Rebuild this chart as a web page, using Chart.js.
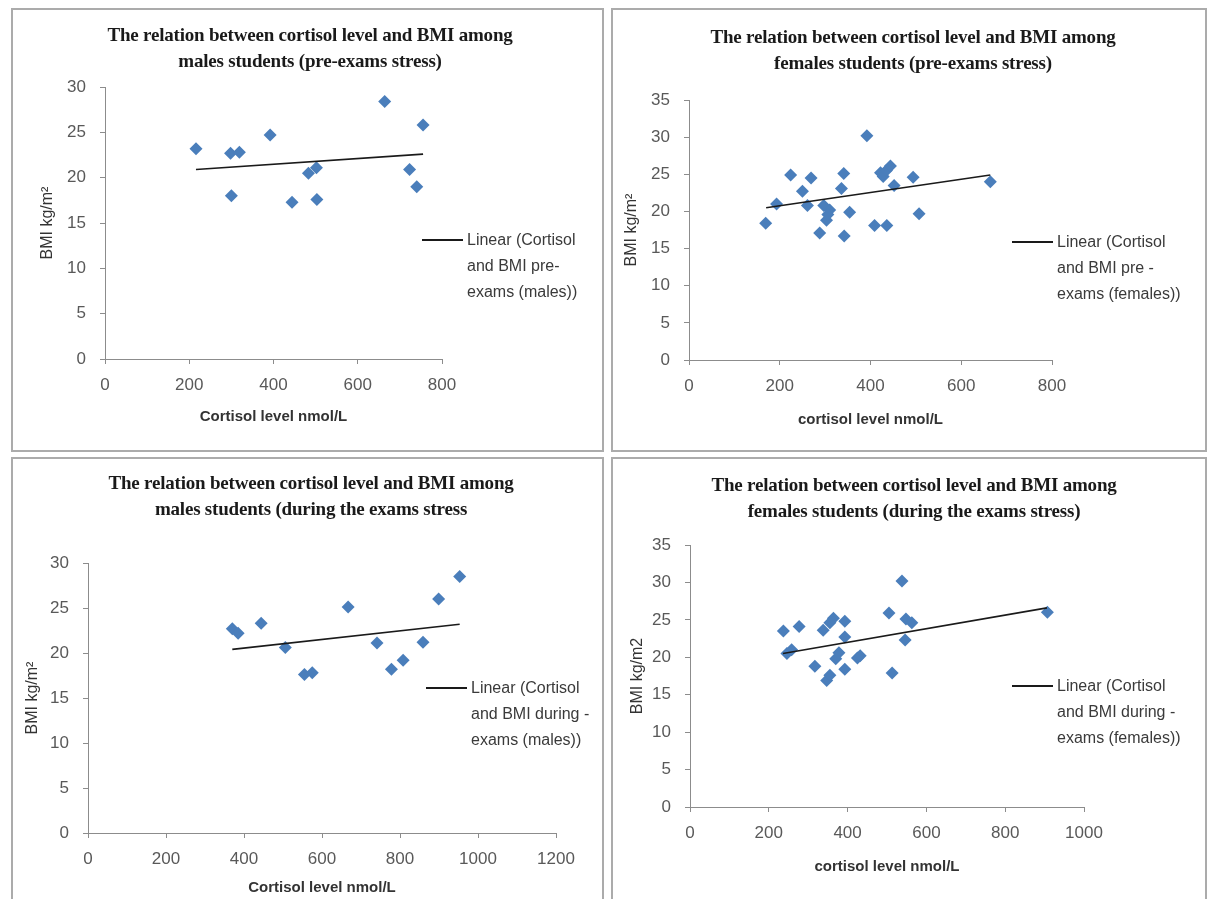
<!DOCTYPE html>
<html>
<head>
<meta charset="utf-8">
<script src="https://cdn.jsdelivr.net/npm/chart.js@4.4.1/dist/chart.umd.min.js"></script>
<style>
    body { margin: 0; background: #fff; width: 1210px; height: 899px; position: relative; overflow: hidden; font-family: "Liberation Sans", Arial, sans-serif; }
    .frame { position: absolute; border: 2px solid #ababab; box-sizing: border-box; }
    .panel { position: absolute; }
    .title { position: absolute; width: 600px; text-align: center; font: bold 19px "Liberation Serif", serif; color: #1a1a1a; line-height: 26px; white-space: nowrap; letter-spacing: -0.2px; }
    .legend { position: absolute; font-size: 16px; color: #3a3a3a; line-height: 26px; white-space: nowrap; }
    .legend .swatch { position: absolute; left: 0; top: 12px; height: 2px; background: #1a1a1a; }
    .legend .text { position: absolute; top: 0; }
</style>
</head>
<body>

<div class="frame" style="left:11px;top:8px;width:593px;height:444px"></div>
<div class="frame" style="left:611px;top:8px;width:596px;height:444px"></div>
<div class="frame" style="left:11px;top:457px;width:593px;height:450px"></div>
<div class="frame" style="left:611px;top:457px;width:596px;height:450px"></div>

<div id="charts"></div>

<script>
// males, pre-exams
const malesPreCortisol = [216, 298, 319, 300, 392, 444, 483, 502, 503, 664, 723, 740, 755]
const malesPreBmi = [23.2, 22.7, 22.8, 18.0, 24.7, 17.3, 20.5, 21.1, 17.6, 28.4, 20.9, 19.0, 25.8]
const malesPreTrendCortisol = [216, 755]
const malesPreTrendBmi = [20.9, 22.6]
const malesPreXTicks = [0, 200, 400, 600, 800]
const malesPreYTicks = [0, 5, 10, 15, 20, 25, 30]

// females, pre-exams
const femalesPreCortisol = [169, 193, 224, 250, 261, 269, 288, 303, 297, 310, 306, 336, 341, 342, 354, 392, 409, 436, 422, 428, 435, 444, 452, 494, 507, 664]
const femalesPreBmi = [18.4, 21.0, 24.9, 22.7, 20.8, 24.5, 17.1, 18.8, 20.8, 20.2, 19.6, 23.1, 25.1, 16.7, 19.9, 30.2, 18.1, 18.1, 25.2, 24.7, 25.5, 26.1, 23.5, 24.6, 19.7, 24.0]
const femalesPreTrendCortisol = [170, 664]
const femalesPreTrendBmi = [20.5, 24.9]
const femalesPreXTicks = [0, 200, 400, 600, 800]
const femalesPreYTicks = [0, 5, 10, 15, 20, 25, 30, 35]

// males, during exams
const malesDuringCortisol = [370, 385, 444, 506, 555, 575, 667, 741, 778, 808, 859, 899, 953]
const malesDuringBmi = [22.7, 22.2, 23.3, 20.6, 17.6, 17.8, 25.1, 21.1, 18.2, 19.2, 21.2, 26.0, 28.5]
const malesDuringTrendCortisol = [370, 953]
const malesDuringTrendBmi = [20.4, 23.2]
const malesDuringXTicks = [0, 200, 400, 600, 800, 1000, 1200]
const malesDuringYTicks = [0, 5, 10, 15, 20, 25, 30]

// females, during exams
const femalesDuringCortisol = [237, 277, 246, 258, 317, 338, 355, 364, 393, 393, 347, 355, 370, 378, 393, 425, 432, 505, 538, 548, 563, 546, 513, 907]
const femalesDuringBmi = [23.5, 24.1, 20.5, 21.0, 18.8, 23.6, 24.6, 25.2, 24.8, 22.7, 16.9, 17.6, 19.8, 20.6, 18.4, 19.9, 20.2, 25.9, 30.2, 25.1, 24.6, 22.3, 17.9, 26.0]
const femalesDuringTrendCortisol = [236, 906]
const femalesDuringTrendBmi = [20.5, 26.6]
const femalesDuringXTicks = [0, 200, 400, 600, 800, 1000]
const femalesDuringYTicks = [0, 5, 10, 15, 20, 25, 30, 35]

const TITLE_LINE_1 = 'The relation between cortisol level and BMI among'

const panels = [
    {
        title: [TITLE_LINE_1, 'males students (pre-exams stress)'],
        x_title: 'Cortisol level nmol/L', y_title: 'BMI kg/m²',
        legend: ['Linear (Cortisol', 'and BMI pre-', 'exams (males))'],
        x: malesPreCortisol, y: malesPreBmi, trend_x: malesPreTrendCortisol, trend_y: malesPreTrendBmi,
        x_ticks: malesPreXTicks, y_ticks: malesPreYTicks,
        // layout (pixels)
        box: [0, 0, 605, 450], padding: { left: 38, top: 87, right: 163, bottom: 24 }, y_width: 67, x_height: 67,
        title_pos: [10, 22], legend_pos: [422, 227]
    },
    {
        title: [TITLE_LINE_1, 'females students (pre-exams stress)'],
        x_title: 'cortisol level nmol/L', y_title: 'BMI kg/m²',
        legend: ['Linear (Cortisol', 'and BMI pre -', 'exams (females))'],
        x: femalesPreCortisol, y: femalesPreBmi, trend_x: femalesPreTrendCortisol, trend_y: femalesPreTrendBmi,
        x_ticks: femalesPreXTicks, y_ticks: femalesPreYTicks,
        box: [605, 0, 605, 450], padding: { left: 17, top: 100, right: 158, bottom: 21 }, y_width: 67, x_height: 69,
        title_pos: [613, 24], legend_pos: [1012, 229]
    },
    {
        title: [TITLE_LINE_1, 'males students (during the exams stress'],
        x_title: 'Cortisol level nmol/L', y_title: 'BMI kg/m²',
        legend: ['Linear (Cortisol', 'and BMI during -', 'exams (males))'],
        x: malesDuringCortisol, y: malesDuringBmi, trend_x: malesDuringTrendCortisol, trend_y: malesDuringTrendBmi,
        x_ticks: malesDuringXTicks, y_ticks: malesDuringYTicks,
        box: [0, 450, 605, 449], padding: { left: 23, top: 113, right: 49, bottom: 2 }, y_width: 65, x_height: 64,
        title_pos: [11, 470], legend_pos: [426, 675]
    },
    {
        title: [TITLE_LINE_1, 'females students (during the exams stress)'],
        x_title: 'cortisol level nmol/L', y_title: 'BMI kg/m2',
        legend: ['Linear (Cortisol', 'and BMI during -', 'exams (females))'],
        x: femalesDuringCortisol, y: femalesDuringBmi, trend_x: femalesDuringTrendCortisol, trend_y: femalesDuringTrendBmi,
        x_ticks: femalesDuringXTicks, y_ticks: femalesDuringYTicks,
        box: [605, 450, 605, 449], padding: { left: 23, top: 95, right: 126, bottom: 23 }, y_width: 62, x_height: 69,
        title_pos: [614, 472], legend_pos: [1012, 673]
    }
]

const AXIS_COLOR = '#8c8c8c'
const TICK_FONT = { family: '"Liberation Sans", Arial, sans-serif', size: 17 }

function axis_options(ticks, title, title_font, tick_padding, fit) {
    return {
        type: 'linear',
        min: ticks[0],
        max: ticks[ticks.length - 1],
        ticks: {
            stepSize: ticks[1] - ticks[0],
            color: '#595959',
            font: TICK_FONT,
            padding: tick_padding,
            autoSkip: false,
            maxRotation: 0,
            callback: value => String(value) // no thousands separator
        },
        grid: { drawOnChartArea: false, drawTicks: true, tickLength: 5, color: AXIS_COLOR },
        border: { display: true, color: AXIS_COLOR, width: 1 },
        title: { display: true, text: title, color: '#333', font: title_font, padding: 0 },
        afterFit: fit
    }
}

const root = document.getElementById('charts')

panels.forEach(panel => {
    const [left, top, width, height] = panel.box

    const holder = document.createElement('div')
    holder.className = 'panel'
    holder.style.left = left + 'px'
    holder.style.top = top + 'px'
    const canvas = document.createElement('canvas')
    canvas.width = width
    canvas.height = height
    holder.appendChild(canvas)
    root.appendChild(holder)

    const title = document.createElement('div')
    title.className = 'title'
    title.style.left = panel.title_pos[0] + 'px'
    title.style.top = panel.title_pos[1] + 'px'
    title.innerHTML = panel.title.join('<br>')
    root.appendChild(title)

    const legend = document.createElement('div')
    legend.className = 'legend'
    legend.style.left = panel.legend_pos[0] + 'px'
    legend.style.top = panel.legend_pos[1] + 'px'
    legend.innerHTML = `<div class="swatch" style="width:41px"></div><div class="text" style="left:45px">${panel.legend.join('<br>')}</div>`
    root.appendChild(legend)

    new Chart(canvas, {
        type: 'scatter',
        data: {
            datasets: [
                {
                    label: panel.legend.join(' '),
                    data: panel.trend_x.map((x, i) => ({ x, y: panel.trend_y[i] })),
                    showLine: true,
                    borderColor: '#1a1a1a',
                    borderWidth: 1.6,
                    pointRadius: 0,
                    order: 0
                },
                {
                    label: 'BMI',
                    data: panel.x.map((x, i) => ({ x, y: panel.y[i] })),
                    pointStyle: 'rectRot',
                    pointRadius: 6.5,
                    backgroundColor: '#4a7ebb',
                    borderColor: '#4a7ebb',
                    borderWidth: 0,
                    order: 1
                }
            ]
        },
        options: {
            responsive: false,
            animation: false,
            devicePixelRatio: 1,
            layout: { padding: panel.padding },
            plugins: { legend: { display: false }, tooltip: { enabled: false }, title: { display: false } },
            scales: {
                x: axis_options(panel.x_ticks, panel.x_title, { family: '"Liberation Sans", Arial, sans-serif', size: 15, weight: 'bold' }, 11,
                    scale => { scale.height = panel.x_height }),
                y: axis_options(panel.y_ticks, panel.y_title, { family: '"Liberation Sans", Arial, sans-serif', size: 16 }, 14,
                    scale => { scale.width = panel.y_width })
            }
        }
    })
})
</script>
</body>
</html>
